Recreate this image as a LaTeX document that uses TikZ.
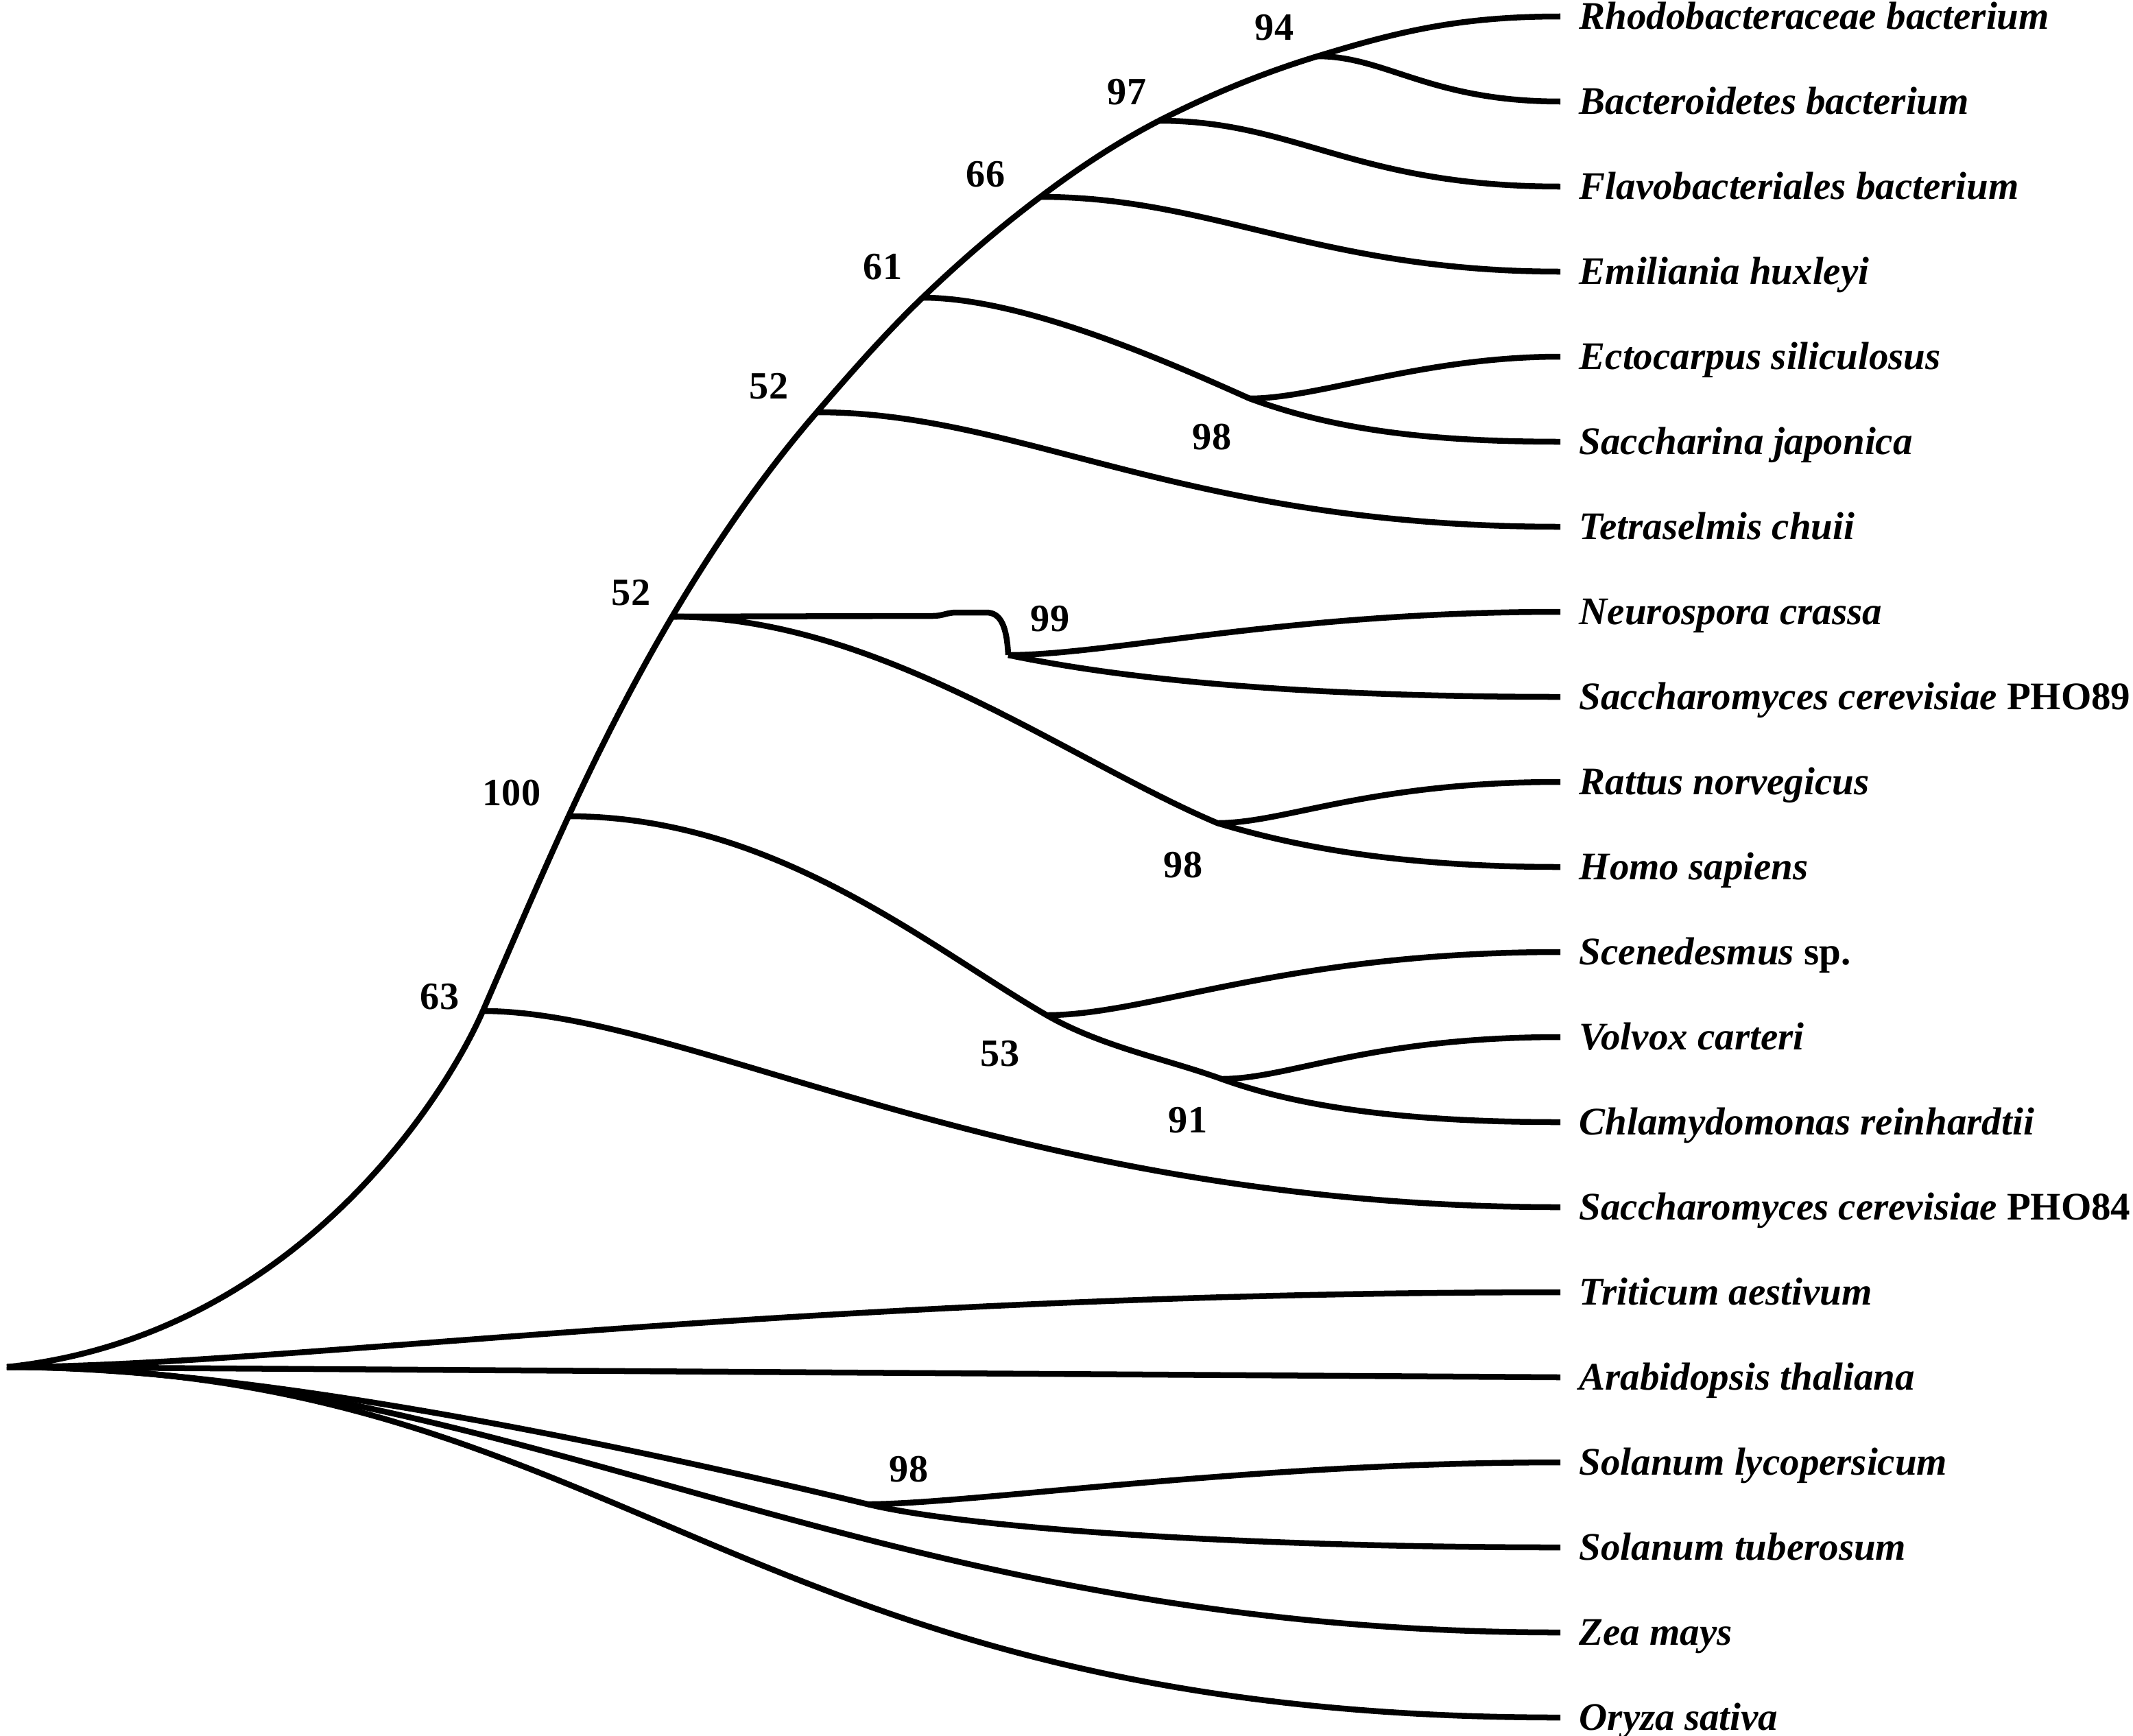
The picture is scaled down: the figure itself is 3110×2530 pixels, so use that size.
\documentclass[tikz,border=0pt]{standalone}
\usepackage{fontspec}
\setmainfont{Liberation Serif}
\begin{document}
\begin{tikzpicture}[x=0.01cm,y=-0.01cm,
  branch/.style={line width=0.085cm, line cap=butt, line join=round},
  taxon/.style={anchor=west, inner sep=0pt, font=\fontsize{16.2pt}{19pt}\selectfont\bfseries\itshape, text height=10.7pt, text depth=0pt},
  boot/.style={inner sep=0pt, font=\fontsize{16pt}{19pt}\selectfont\bfseries, text height=10.8pt, text depth=0pt}]
\useasboundingbox (0,0) rectangle (3110,2530);

% leaves
\foreach \i in {0,...,20} \coordinate (l\i) at (2275,{24+124*\i});

% internal nodes
\coordinate (root) at (10,1993);
\coordinate (n94) at (1921,82);
\coordinate (n97) at (1690,176);
\coordinate (n66) at (1517,287);
\coordinate (n61) at (1345,434);
\coordinate (n98a) at (1822,581);
\coordinate (n52u) at (1191,601);
\coordinate (n52l) at (980,899);
\coordinate (n99) at (1470,955);
\coordinate (n98b) at (1775,1200);
\coordinate (n100) at (829,1190);
\coordinate (n53) at (1526,1480);
\coordinate (n91) at (1781,1573);
\coordinate (n63) at (704,1474);
\coordinate (n98c) at (1265,2193);

% kink helper points
\coordinate (k1) at (1360,898);
\coordinate (k2) at (1395,893);
\coordinate (k3) at (1438,893);

% backbone
\draw[branch] (root)
  .. controls +(418,-44) and +(-56,128) .. (n63)
  .. controls +(40,-92) and +(-42,91) .. (n100)
  .. controls +(46,-100) and +(-56,95) .. (n52l)
  .. controls +(61,-103) and +(-79,91) .. (n52u)
  .. controls +(49,-57) and +(-54,52) .. (n61)
  .. controls +(54,-52) and +(-60,45) .. (n66)
  .. controls +(54,-41) and +(-60,31) .. (n97)
  .. controls +(74,-38) and +(-79,24) .. (n94)
  .. controls +(115,-35) and +(-150,0) .. (l0);

% upper clade
\draw[branch] (n94) .. controls +(100,0) and +(-190,0) .. (l1);
\draw[branch] (n97) .. controls +(200,0) and +(-300,0) .. (l2);
\draw[branch] (n66) .. controls +(250,0) and +(-350,0) .. (l3);
\draw[branch] (n61) .. controls +(150,0) and +(-110,-49) .. (n98a) .. controls +(120,44) and +(-200,0) .. (l5);
\draw[branch] (n98a) .. controls +(100,0) and +(-200,0) .. (l4);
\draw[branch] (n52u) .. controls +(300,0) and +(-550,0) .. (l6);
\draw[branch] (n52l) -- (k1) .. controls +(15,0) and +(-15,0) .. (k2) -- (k3) .. controls +(22,0) and +(-2,-40) .. (n99);
\draw[branch] (n99) .. controls +(150,0) and +(-400,0) .. (l7);
\draw[branch] (n99) .. controls +(120,25) and +(-450,0) .. (l8);
\draw[branch] (n52l) .. controls +(300,0) and +(-220,-93) .. (n98b) .. controls +(100,30) and +(-250,0) .. (l10);
\draw[branch] (n98b) .. controls +(100,0) and +(-280,0) .. (l9);
\draw[branch] (n100) .. controls +(300,0) and +(-173,-100) .. (n53) .. controls +(80,46) and +(-80,-29) .. (n91) .. controls +(100,36) and +(-250,0) .. (l13);
\draw[branch] (n53) .. controls +(150,0) and +(-400,0) .. (l11);
\draw[branch] (n91) .. controls +(100,0) and +(-280,0) .. (l12);
\draw[branch] (n63) .. controls +(300,0) and +(-800,0) .. (l14);

% root clade
\draw[branch] (root) .. controls +(400,0) and +(-1100,0) .. (l15);
\draw[branch] (root) -- (l16);
\draw[branch] (root) .. controls +(400,0) and +(-250,-60) .. (n98c) .. controls +(150,36) and +(-450,0) .. (l18);
\draw[branch] (n98c) .. controls +(150,0) and +(-450,0) .. (l17);
\draw[branch] (root) .. controls +(750,0) and +(-1000,0) .. (l19);
\draw[branch] (root) .. controls +(900,0) and +(-1200,0) .. (l20);

% taxon labels
\node[taxon] (t0) at (2302,24) {Rhodobacteraceae bacterium};
\node[taxon] (t1) at (2302,148) {Bacteroidetes bacterium};
\node[taxon] (t2) at (2302,272) {Flavobacteriales bacterium};
\node[taxon] (t3) at (2302,396) {Emiliania huxleyi};
\node[taxon] (t4) at (2302,520) {Ectocarpus siliculosus};
\node[taxon] (t5) at (2302,644) {Saccharina japonica};
\node[taxon] (t6) at (2302,768) {Tetraselmis chuii};
\node[taxon] (t7) at (2302,892) {Neurospora crassa};
\node[taxon] (t8) at (2302,1016) {Saccharomyces cerevisiae \textup{PHO89}};
\node[taxon] (t9) at (2302,1140) {Rattus norvegicus};
\node[taxon] (t10) at (2302,1264) {Homo sapiens};
\node[taxon] (t11) at (2302,1388) {Scenedesmus \textup{sp.}};
\node[taxon] (t12) at (2302,1512) {Volvox carteri};
\node[taxon] (t13) at (2302,1636) {Chlamydomonas reinhardtii};
\node[taxon] (t14) at (2302,1760) {Saccharomyces cerevisiae \textup{PHO84}};
\node[taxon] (t15) at (2302,1884) {Triticum aestivum};
\node[taxon] (t16) at (2302,2008) {Arabidopsis thaliana};
\node[taxon] (t17) at (2302,2132) {Solanum lycopersicum};
\node[taxon] (t18) at (2302,2256) {Solanum tuberosum};
\node[taxon] (t19) at (2302,2380) {Zea mays};
\node[taxon] (t20) at (2302,2504) {Oryza sativa};

% bootstrap values
\node[boot] (b94) at (1858,40) {94};
\node[boot] (b97) at (1643,134) {97};
\node[boot] (b66) at (1437,254) {66};
\node[boot] (b61) at (1287,389) {61};
\node[boot] (b52u) at (1121,562) {52};
\node[boot] (b98a) at (1767,636) {98};
\node[boot] (b52l) at (920,863) {52};
\node[boot] (b99) at (1531,901) {99};
\node[boot] (b100) at (746,1155) {100};
\node[boot] (b98b) at (1725,1260) {98};
\node[boot] (b63) at (641,1452) {63};
\node[boot] (b53) at (1458,1535) {53};
\node[boot] (b91) at (1732,1632) {91};
\node[boot] (b98c) at (1325,2141) {98};
\end{tikzpicture}
\end{document}
